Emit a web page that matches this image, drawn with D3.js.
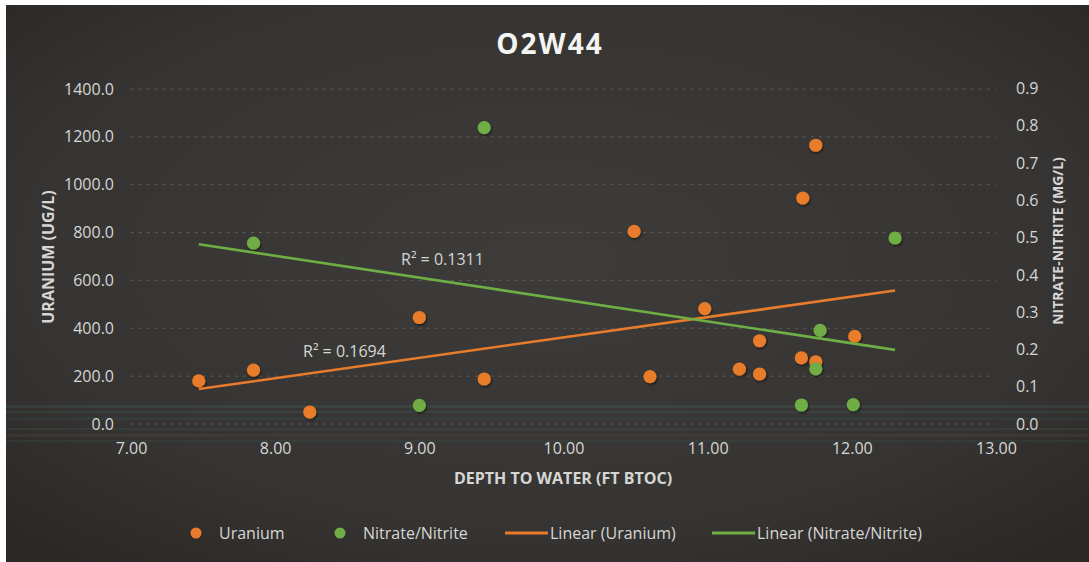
<!DOCTYPE html>
<html>
<head>
<meta charset="utf-8">
<script src="https://cdn.jsdelivr.net/npm/d3@7"></script>
<style>
  html, body { margin: 0; padding: 0; background: #ffffff; }
  svg { display: block; }
  text { font-family: "Open Sans", "Liberation Sans", sans-serif; }
</style>
</head>
<body>
<svg id="chart" width="1089" height="562"></svg>
<script>
// Depth to water (ft BTOC) paired with uranium results (ug/L)
const uraniumDepth = [7.47, 7.85, 8.24, 9.00, 9.45, 10.49, 10.60, 10.98, 11.22, 11.36, 11.36, 11.65, 11.66, 11.75, 11.75, 12.02];
const uraniumValue = [180, 225, 50, 445, 188, 805, 198, 482, 229, 348, 209, 276, 944, 1165, 260, 366];

// Depth to water (ft BTOC) paired with nitrate/nitrite results (mg/L)
const nitrateDepth = [7.85, 9.00, 9.45, 11.65, 11.75, 11.78, 12.01, 12.30];
const nitrateValue = [0.485, 0.05, 0.795, 0.051, 0.148, 0.251, 0.052, 0.499];

// Axis ticks
const xTicks = [7, 8, 9, 10, 11, 12, 13];
const leftTicks = [0, 200, 400, 600, 800, 1000, 1200, 1400];
const rightTicks = [0, 0.1, 0.2, 0.3, 0.4, 0.5, 0.6, 0.7, 0.8, 0.9];

// Trendline fit statistics shown on the chart
const uraniumR2 = "0.1694";
const nitrateR2 = "0.1311";

const legendItems = [
  { label: "Uranium", kind: "dot", color: "#e87c2c" },
  { label: "Nitrate/Nitrite", kind: "dot", color: "#6fae45" },
  { label: "Linear (Uranium)", kind: "line", color: "#e87c2c" },
  { label: "Linear (Nitrate/Nitrite)", kind: "line", color: "#6fae45" }
];

const ORANGE = "#e87c2c";
const GREEN = "#6fae45";
const TEXT = "#d6d6d4";

const svg = d3.select("#chart");
const defs = svg.append("defs");

// Card background: dark charcoal, slightly lighter toward the middle
const bg = defs.append("radialGradient").attr("id", "bgGrad")
  .attr("cx", "50%").attr("cy", "45%").attr("r", "70%");
bg.append("stop").attr("offset", "0%").attr("stop-color", "#3d3c3a");
bg.append("stop").attr("offset", "70%").attr("stop-color", "#363432");
bg.append("stop").attr("offset", "100%").attr("stop-color", "#2b2826");

const shadow = defs.append("filter").attr("id", "dotShadow")
  .attr("x", "-50%").attr("y", "-50%").attr("width", "200%").attr("height", "200%");
shadow.append("feDropShadow").attr("dx", 1).attr("dy", 1.5)
  .attr("stdDeviation", 1.2).attr("flood-color", "#000").attr("flood-opacity", 0.55);

svg.append("rect").attr("x", 6).attr("y", 5).attr("width", 1083).attr("height", 557)
  .attr("fill", "url(#bgGrad)");

// Faint horizontal banding across the lower part of the card
const bands = [
  { y: 405, h: 3, c: "#3f6a62", o: 0.25 },
  { y: 411, h: 2, c: "#46706a", o: 0.22 },
  { y: 417, h: 3, c: "#2f5a55", o: 0.22 },
  { y: 428, h: 2, c: "#3a5f5c", o: 0.25 },
  { y: 434, h: 3, c: "#55504a", o: 0.22 },
  { y: 440, h: 2, c: "#3d5a58", o: 0.22 }
];
svg.append("g").selectAll("rect").data(bands).join("rect")
  .attr("x", 6).attr("width", 1083)
  .attr("y", d => d.y).attr("height", d => d.h)
  .attr("fill", d => d.c).attr("opacity", d => d.o);

// Scales
const x = d3.scaleLinear().domain([7, 13]).range([131, 996]);
const yL = d3.scaleLinear().domain([0, 1400]).range([424, 89]);
const yR = d3.scaleLinear().domain([0, 0.9]).range([424, 88.5]);

// Gridlines
svg.append("g").selectAll("line").data(leftTicks).join("line")
  .attr("x1", x(7)).attr("x2", x(13))
  .attr("y1", d => yL(d)).attr("y2", d => yL(d))
  .attr("stroke", "#8a8886").attr("stroke-opacity", 0.45)
  .attr("stroke-width", 1).attr("stroke-dasharray", "3,5");

// Axes
const axisX = d3.axisBottom(x).tickValues(xTicks).tickSize(0).tickPadding(0)
  .tickFormat(d3.format(".2f"));
const gx = svg.append("g").attr("transform", "translate(0,443)").call(axisX);

const axisL = d3.axisLeft(yL).tickValues(leftTicks).tickSize(0).tickPadding(0)
  .tickFormat(d3.format(".1f"));
const gl = svg.append("g").attr("transform", "translate(114,0)").call(axisL);

const axisR = d3.axisRight(yR).tickValues(rightTicks).tickSize(0).tickPadding(0)
  .tickFormat(d3.format(".1f"));
const gr = svg.append("g").attr("transform", "translate(1016,0)").call(axisR);

[gx, gl, gr].forEach(g => {
  g.select(".domain").remove();
  g.selectAll("text").attr("fill", TEXT).style("font-size", "16px")
    .style("font-family", "'Open Sans', sans-serif");
});
gx.selectAll("text").attr("dy", "0.71em");

// Axis titles
svg.append("text").attr("x", 563).attr("y", 484).attr("text-anchor", "middle")
  .attr("fill", TEXT).style("font-size", "16px").style("font-weight", "bold")
  .text("DEPTH TO WATER (FT BTOC)");

svg.append("text").attr("transform", "translate(54,257) rotate(-90)")
  .attr("text-anchor", "middle").attr("fill", TEXT)
  .style("font-size", "16px").style("font-weight", "bold")
  .text("URANIUM (UG/L)");

svg.append("text").attr("transform", "translate(1063,241) rotate(-90)")
  .attr("text-anchor", "middle").attr("fill", TEXT)
  .style("font-size", "14px").style("font-weight", "bold")
  .text("NITRATE-NITRITE (MG/L)");

// Title
svg.append("text").attr("x", 550).attr("y", 54).attr("text-anchor", "middle")
  .attr("fill", "#f4f4f2").style("font-size", "28px").style("font-weight", "bold")
  .style("letter-spacing", "2px")
  .text("O2W44");

// Least-squares fit across the shared depth range
function fit(xs, ys) {
  const mx = d3.mean(xs), my = d3.mean(ys);
  let sxy = 0, sxx = 0;
  xs.forEach((v, i) => { sxy += (v - mx) * (ys[i] - my); sxx += (v - mx) * (v - mx); });
  const slope = sxy / sxx;
  return t => my + slope * (t - mx);
}
const allDepths = uraniumDepth.concat(nitrateDepth);
const [dMin, dMax] = d3.extent(allDepths);

const uFit = fit(uraniumDepth, uraniumValue);
const nFit = fit(nitrateDepth, nitrateValue);

const uraniumPts = uraniumDepth.map((d, i) => ({ d, v: uraniumValue[i] }));
const nitratePts = nitrateDepth.map((d, i) => ({ d, v: nitrateValue[i] }));

// Uranium points
svg.append("g").selectAll("circle").data(uraniumPts).join("circle")
  .attr("cx", p => x(p.d)).attr("cy", p => yL(p.v)).attr("r", 6.6)
  .attr("fill", ORANGE).attr("filter", "url(#dotShadow)");

// Nitrate/nitrite points
svg.append("g").selectAll("circle").data(nitratePts).join("circle")
  .attr("cx", p => x(p.d)).attr("cy", p => yR(p.v)).attr("r", 6.6)
  .attr("fill", GREEN).attr("filter", "url(#dotShadow)");

// Trendlines
const line = d3.line();
svg.append("path")
  .attr("d", line([[x(dMin), yL(uFit(dMin))], [x(dMax), yL(uFit(dMax))]]))
  .attr("stroke", ORANGE).attr("stroke-width", 2.6).attr("fill", "none");
svg.append("path")
  .attr("d", line([[x(dMin), yR(nFit(dMin))], [x(dMax), yR(nFit(dMax))]]))
  .attr("stroke", GREEN).attr("stroke-width", 2.6).attr("fill", "none");

// R² labels
svg.append("text").attr("x", 303).attr("y", 357).attr("fill", TEXT)
  .style("font-size", "16px").text("R² = " + uraniumR2);
svg.append("text").attr("x", 401).attr("y", 265).attr("fill", TEXT)
  .style("font-size", "16px").text("R² = " + nitrateR2);

// Legend
const legendX = [190, 334, 505, 712];
const lg = svg.append("g");
legendItems.forEach((item, i) => {
  const g = lg.append("g").attr("transform", `translate(${legendX[i]},533)`);
  if (item.kind === "dot") {
    g.append("circle").attr("cx", 6).attr("cy", 0).attr("r", 5.5).attr("fill", item.color);
    g.append("text").attr("x", 29).attr("y", 0).attr("dy", "0.35em")
      .attr("fill", TEXT).style("font-size", "16px").text(item.label);
  } else {
    g.append("line").attr("x1", 0).attr("x2", 43).attr("y1", 0).attr("y2", 0)
      .attr("stroke", item.color).attr("stroke-width", 3);
    g.append("text").attr("x", 45).attr("y", 0).attr("dy", "0.35em")
      .attr("fill", TEXT).style("font-size", "16px").text(item.label);
  }
});
</script>
</body>
</html>
